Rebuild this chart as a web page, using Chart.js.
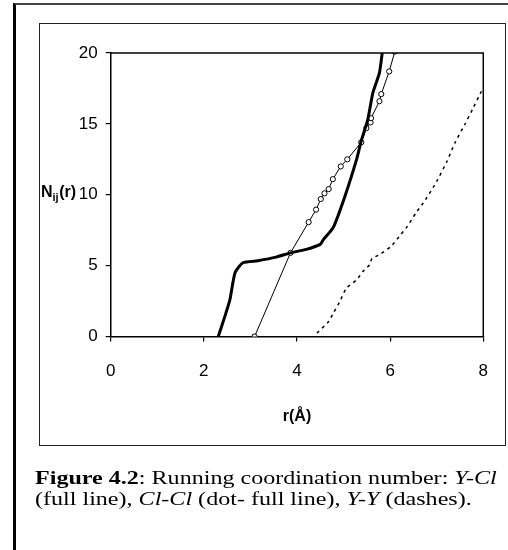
<!DOCTYPE html>
<html>
<head>
<meta charset="utf-8">
<script src="https://cdn.jsdelivr.net/npm/chart.js@4/dist/chart.umd.min.js"></script>
<style>
  html, body { margin: 0; padding: 0; background: #fff; }
  #page { position: relative; width: 508px; height: 550px; overflow: hidden; background: #fff; }
  #outer { position: absolute; left: 13px; top: 3px; width: 600px; height: 600px;
           border-left: 3px solid #000; border-top: 2px solid #444; box-sizing: border-box; }
  #inner { position: absolute; left: 39px; top: 23px; width: 467px; height: 423px;
           border: 1.5px solid #222; box-sizing: border-box; }
  #cv { position: absolute; left: 0; top: 0; }
  #caption { position: absolute; left: 35px; top: 468px; width: 350px; white-space: nowrap;
             font-family: "Liberation Serif", "Times New Roman", serif; font-size: 18px;
             line-height: 20.5px; color: #000; transform: scaleX(1.337); transform-origin: 0 0; }
</style>
</head>
<body>
<div id="page">
  <div id="outer"></div>
  <div id="inner"></div>
  <canvas id="cv" width="508" height="550"></canvas>
  <div id="caption"><b>Figure 4.2</b>: Running coordination number: <i>Y-Cl</i><br>(full line), <i>Cl-Cl</i> (dot- full line), <i>Y-Y</i> (dashes).</div>
</div>
<script>
// ---- data ----
const xTicks = [0, 2, 4, 6, 8];
const yTicks = [0, 5, 10, 15, 20];

const yclR = [2.31, 2.45, 2.56, 2.67, 2.84, 3.16, 3.55, 3.86, 4.2, 4.5, 4.57, 4.78, 5.03, 5.28, 5.38, 5.52, 5.63, 5.77, 5.83];
const yclN = [0, 1.4, 2.6, 4.5, 5.2, 5.35, 5.6, 5.9, 6.15, 6.5, 6.85, 7.7, 9.9, 12.5, 13.8, 15.3, 17.2, 18.6, 20];

const clclR = [3.09, 3.86, 4.25, 4.41, 4.51, 4.59, 4.68, 4.77, 4.94, 5.08, 5.38, 5.49, 5.58, 5.59, 5.77, 5.81, 5.98, 6.10];
const clclN = [0, 5.9, 8.07, 8.95, 9.7, 10.1, 10.4, 11.1, 12.0, 12.5, 13.7, 14.7, 15.1, 15.4, 16.6, 17.1, 18.7, 20.1];

const yyR = [4.43, 4.68, 4.78, 4.92, 5.06, 5.28, 5.42, 5.56, 5.61, 5.77, 6.02, 6.23, 6.37, 6.55, 6.76, 7.0, 7.22, 7.39, 7.6, 7.78, 7.96];
const yyN = [0.24, 1.06, 1.65, 2.47, 3.4, 4.0, 4.6, 5.06, 5.5, 5.77, 6.36, 7.2, 7.77, 8.7, 9.65, 10.95, 12.35, 13.65, 14.94, 16.1, 17.3];

const pairs = (xs, ys) => xs.map((x, i) => ({ x: x, y: ys[i] }));

const NARROW = "'Liberation Sans Narrow', 'Arial Narrow', 'Liberation Sans', sans-serif";

const frameAndTitle = {
  id: 'frameAndTitle',
  afterDraw(chart) {
    const ctx = chart.ctx, a = chart.chartArea;
    ctx.save();
    ctx.strokeStyle = '#000';
    ctx.lineWidth = 1.5;
    ctx.beginPath();
    ctx.moveTo(a.left, a.top); ctx.lineTo(a.right, a.top); ctx.lineTo(a.right, a.bottom);
    ctx.stroke();
    // y-axis title N_ij(r)
    const ys = chart.scales.y;
    const cy = ys.getPixelForValue(10) - 4;
    let x = 41;
    ctx.fillStyle = '#000';
    ctx.textBaseline = 'alphabetic';
    ctx.textAlign = 'left';
    const base = cy + 6;
    ctx.font = 'bold 16px ' + NARROW;
    ctx.fillText('N', x, base); x += ctx.measureText('N').width;
    ctx.font = 'bold 11px ' + NARROW;
    ctx.fillText('ij', x, base + 4); x += ctx.measureText('ij').width + 0.5;
    ctx.font = 'bold 16px ' + NARROW;
    ctx.fillText('(r)', x, base);
    ctx.restore();
  }
};

new Chart(document.getElementById('cv'), {
  type: 'scatter',
  data: {
    datasets: [
      { label: 'Y-Cl', data: pairs(yclR, yclN), showLine: true, borderColor: '#000',
        borderWidth: 3, pointRadius: 0, tension: 0.2, fill: false },
      { label: 'Cl-Cl', data: pairs(clclR, clclN), showLine: true, borderColor: '#000',
        borderWidth: 1, pointRadius: 2.6, pointBorderWidth: 1, pointBackgroundColor: '#fff',
        pointBorderColor: '#000', tension: 0, fill: false },
      { label: 'Y-Y', data: pairs(yyR, yyN), showLine: true, borderColor: '#000',
        borderWidth: 1.5, borderDash: [3, 4], pointRadius: 0, tension: 0.2, fill: false }
    ]
  },
  options: {
    responsive: false,
    animation: false,
    devicePixelRatio: 1,
    layout: { padding: { left: 40, top: 53, right: 19, bottom: 124 } },
    plugins: { legend: { display: false }, tooltip: { enabled: false } },
    scales: {
      x: {
        type: 'linear', min: 0, max: 8,
        afterBuildTicks: s => { s.ticks = xTicks.map(v => ({ value: v })); },
        afterFit: s => { s.height = 89.5; },
        border: { display: true, color: '#000', width: 1.5 },
        grid: { display: true, drawOnChartArea: false, drawTicks: true, tickLength: 5, color: '#000', lineWidth: 1.2 },
        ticks: { color: '#000', padding: 20, font: { family: NARROW, size: 17 }, maxRotation: 0 },
        title: { display: true, text: 'r(Å)', color: '#000', padding: { top: 0, bottom: 0 },
                 font: { family: NARROW, size: 16, weight: 'bold' } }
      },
      y: {
        type: 'linear', min: 0, max: 20,
        afterBuildTicks: s => { s.ticks = yTicks.map(v => ({ value: v })); },
        afterFit: s => { s.width = 70.7; },
        border: { display: true, color: '#000', width: 1.5 },
        grid: { display: true, drawOnChartArea: false, drawTicks: true, tickLength: 5, color: '#000', lineWidth: 1.2 },
        ticks: { color: '#000', padding: 8, font: { family: NARROW, size: 17 } },
        title: { display: false }
      }
    }
  },
  plugins: [frameAndTitle]
});
</script>
</body>
</html>
